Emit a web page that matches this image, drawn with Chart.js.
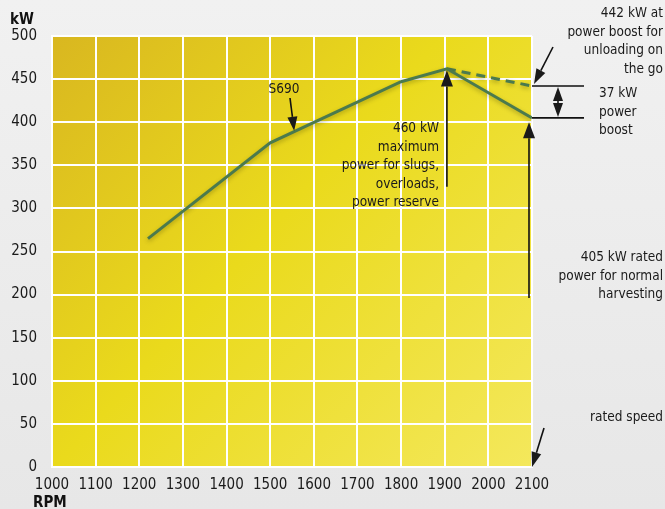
<!DOCTYPE html>
<html>
<head>
<meta charset="utf-8">
<script src="https://cdn.jsdelivr.net/npm/chart.js@4.4.1/dist/chart.umd.min.js"></script>
<style>
  html, body { margin: 0; padding: 0; }
  body { width: 665px; height: 509px; background: linear-gradient(180deg, #f1f1f1 0%, #e7e7e7 100%); overflow: hidden; }
  #wrap { position: relative; width: 665px; height: 509px; }
</style>
</head>
<body>
<div id="wrap"><canvas id="powerChart"></canvas></div>
<script>
// engine speed (RPM) and power (kW)
const rpm = [1220, 1500, 1800, 1905, 2100];
const powerKW = [265, 376, 447, 462, 405];
// power boost branch (dashed)
const boostRpm = [1905, 2100];
const boostKW = [462, 442];
// axis ticks
const rpmTicks = [1000, 1100, 1200, 1300, 1400, 1500, 1600, 1700, 1800, 1900, 2000, 2100];
const kwTicks = [0, 50, 100, 150, 200, 250, 300, 350, 400, 450, 500];

const FONT = "'DejaVu Sans Condensed', 'DejaVu Sans', sans-serif";

function toPoints(xs, ys) {
  return xs.map((x, i) => ({ x: x, y: ys[i] }));
}

function arrow(ctx, x1, y1, x2, y2, len, half) {
  const a = Math.atan2(y2 - y1, x2 - x1);
  const bx = x2 - Math.cos(a) * len;
  const by = y2 - Math.sin(a) * len;
  ctx.beginPath();
  ctx.moveTo(x1, y1);
  ctx.lineTo(bx, by);
  ctx.stroke();
  ctx.beginPath();
  ctx.moveTo(x2, y2);
  ctx.lineTo(bx + Math.sin(a) * half, by - Math.cos(a) * half);
  ctx.lineTo(bx - Math.sin(a) * half, by + Math.cos(a) * half);
  ctx.closePath();
  ctx.fill();
}

function lines(ctx, arr, x, y0, lh, align) {
  ctx.textAlign = align;
  arr.forEach((t, i) => ctx.fillText(t, x, y0 + i * lh));
}

const bgPlugin = {
  id: "bg",
  beforeDraw(chart) {
    const { ctx, chartArea: a } = chart;
    const g = ctx.createLinearGradient(a.left, a.top, a.right, a.bottom);
    g.addColorStop(0, "#d9b720");
    g.addColorStop(0.45, "#eada1c");
    g.addColorStop(1, "#f4e85c");
    ctx.save();
    ctx.fillStyle = g;
    ctx.fillRect(a.left, a.top, a.right - a.left, a.bottom - a.top);
    ctx.restore();
  },
  beforeDatasetsDraw(chart) {
    const ctx = chart.ctx;
    ctx.save();
    ctx.shadowColor = "rgba(60, 60, 0, 0.35)";
    ctx.shadowBlur = 4;
    ctx.shadowOffsetY = 2;
  },
  afterDatasetsDraw(chart) {
    chart.ctx.restore();
  },
};

const notesPlugin = {
  id: "notes",
  afterDraw(chart) {
    const ctx = chart.ctx;
    const xs = chart.scales.x;
    const ys = chart.scales.y;
    const X = (v) => xs.getPixelForValue(v);
    const Y = (v) => ys.getPixelForValue(v);
    ctx.save();
    ctx.fillStyle = "#111";
    ctx.strokeStyle = "#111";
    ctx.lineWidth = 1.6;

    // axis titles
    ctx.font = "bold 15px " + FONT;
    ctx.textAlign = "left";
    ctx.textBaseline = "alphabetic";
    ctx.fillText("kW", 10, 24);
    ctx.fillText("RPM", 33, 507);

    ctx.font = "13.5px " + FONT;
    ctx.fillStyle = "#1a1a1a";

    // S690 label
    ctx.textAlign = "center";
    ctx.fillText("S690", 284, 93);
    arrow(ctx, 290, 98, X(1555), Y(390), 14, 5);

    // peak annotation
    lines(ctx, ["460 kW", "maximum", "power for slugs,", "overloads,", "power reserve"], 439, 132, 18.5, "right");
    arrow(ctx, X(1905), Y(325), X(1905), Y(460), 16, 6);

    // rated power annotation
    arrow(ctx, X(2100) - 3, Y(196), X(2100) - 3, Y(400), 16, 6);
    lines(ctx, ["405 kW rated", "power for normal", "harvesting"], 663, 261, 18.5, "right");

    // boost annotation
    lines(ctx, ["442 kW at", "power boost for", "unloading on", "the go"], 663, 17, 18.5, "right");
    arrow(ctx, 553, 47, X(2100) + 2, Y(442) - 2, 15, 5);

    // 37 kW bracket
    ctx.beginPath();
    ctx.moveTo(X(2100), Y(442));
    ctx.lineTo(584, Y(442));
    ctx.moveTo(X(2100), Y(405));
    ctx.lineTo(584, Y(405));
    ctx.stroke();
    const mid = (Y(442) + Y(405)) / 2;
    arrow(ctx, 558, mid, 558, Y(442) + 1, 14, 5);
    arrow(ctx, 558, mid, 558, Y(405) - 1, 14, 5);
    lines(ctx, ["37 kW", "power", "boost"], 599, 97, 18.5, "left");

    // rated speed
    lines(ctx, ["rated speed"], 663, 421, 18.5, "right");
    arrow(ctx, 544, 428, X(2100), Y(0), 15, 5);

    ctx.restore();
  },
};

new Chart(document.getElementById("powerChart").getContext("2d"), {
  type: "line",
  data: {
    datasets: [
      {
        label: "S690",
        data: toPoints(rpm, powerKW),
        borderColor: "#4b7a4d",
        borderWidth: 3,
        pointRadius: 0,
        tension: 0,
      },
      {
        label: "boost",
        data: toPoints(boostRpm, boostKW),
        borderColor: "#4b7a4d",
        borderWidth: 3,
        borderDash: [9, 6],
        pointRadius: 0,
        tension: 0,
      },
    ],
  },
  options: {
    responsive: true,
    maintainAspectRatio: false,
    animation: false,
    layout: { padding: { top: 36, right: 133, left: 0, bottom: 0 } },
    plugins: { legend: { display: false }, tooltip: { enabled: false } },
    scales: {
      x: {
        type: "linear",
        min: rpmTicks[0],
        max: rpmTicks[rpmTicks.length - 1],
        afterBuildTicks: (s) => { s.ticks = rpmTicks.map((v) => ({ value: v })); },
        afterFit: (s) => { s.height = 42; },
        grid: { color: "#ffffff", lineWidth: 2, drawTicks: false },
        border: { color: "#ffffff", width: 2 },
        ticks: {
          color: "#1a1a1a",
          padding: 9,
          font: { family: FONT, size: 15 },
          maxRotation: 0,
          autoSkip: false,
          callback: (v) => String(v),
        },
      },
      y: {
        min: kwTicks[0],
        max: kwTicks[kwTicks.length - 1],
        afterBuildTicks: (s) => { s.ticks = kwTicks.map((v) => ({ value: v })); },
        afterFit: (s) => { s.width = 52; },
        grid: { color: "#ffffff", lineWidth: 2, drawTicks: false },
        border: { color: "#ffffff", width: 2 },
        ticks: {
          color: "#1a1a1a",
          padding: 15,
          font: { family: FONT, size: 15 },
          callback: (v) => String(v),
        },
      },
    },
  },
  plugins: [bgPlugin, notesPlugin],
});
</script>
</body>
</html>
